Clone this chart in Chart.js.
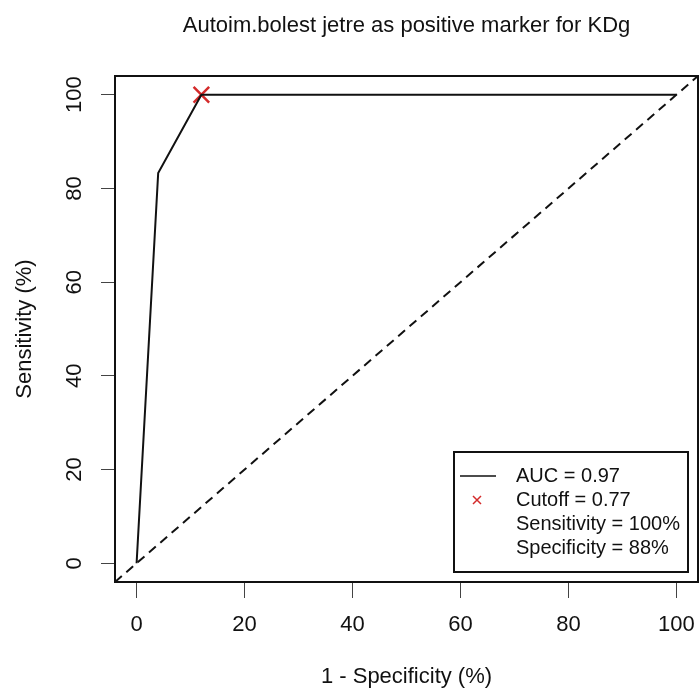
<!DOCTYPE html>
<html>
<head>
<meta charset="utf-8">
<script src="https://cdn.jsdelivr.net/npm/chart.js@4/dist/chart.umd.min.js"></script>
<style>
  html, body { margin: 0; padding: 0; background: #fff; overflow: hidden; }
  #wrap { width: 700px; height: 694px; }
</style>
</head>
<body>
<div id="wrap"><canvas id="chart" width="700" height="694"></canvas></div>
<script>
// data
const titleText = 'Autoim.bolest jetre as positive marker for KDg';
const xTitle = '1 - Specificity (%)';
const yTitle = 'Sensitivity (%)';
const axisLimits = [-4, 104];
const tickValues = [0, 20, 40, 60, 80, 100];
const fpr = [0, 4, 12, 100];          // 1 - specificity
const tpr = [0, 83.3, 100, 100];      // sensitivity
const cutoffFpr = [12];
const cutoffTpr = [100];
const legendLabels = ['AUC = 0.97', 'Cutoff = 0.77', 'Sensitivity = 100%', 'Specificity = 88%'];

const fontFamily = '"Liberation Sans", Arial, Helvetica, sans-serif';
const red = '#d42a2a';

const toPoints = (xs, ys) => xs.map((x, i) => ({x: x, y: ys[i]}));

// box round the plot, title, tick labels and legend
const extras = {
    id: 'extras',
    afterDatasetsDraw(chart) {
        const ctx = chart.ctx;
        const area = chart.chartArea;
        const xScale = chart.scales.x;
        const yScale = chart.scales.y;
        ctx.save();

        ctx.strokeStyle = '#111';
        ctx.lineWidth = 2;
        ctx.strokeRect(area.left, area.top, area.right - area.left, area.bottom - area.top);

        ctx.fillStyle = '#111';
        ctx.font = '22px ' + fontFamily;
        ctx.textAlign = 'center';
        ctx.textBaseline = 'middle';
        ctx.fillText(titleText, (area.left + area.right) / 2, 26);

        // y tick labels, vertical like R
        yScale.ticks.forEach(t => {
            const y = yScale.getPixelForValue(t.value);
            ctx.save();
            ctx.translate(75, y);
            ctx.rotate(-Math.PI / 2);
            ctx.fillText(String(t.value), 0, 0);
            ctx.restore();
        });

        // x tick labels
        ctx.textBaseline = 'alphabetic';
        xScale.ticks.forEach(t => {
            ctx.fillText(String(t.value), xScale.getPixelForValue(t.value), area.bottom + 49);
        });

        // legend
        ctx.textBaseline = 'middle';
        const w = 234, h = 120;
        const lx = area.right - 10 - w;
        const ly = area.bottom - 10 - h;
        ctx.fillStyle = '#fff';
        ctx.fillRect(lx, ly, w, h);
        ctx.strokeStyle = '#111';
        ctx.lineWidth = 2;
        ctx.strokeRect(lx, ly, w, h);

        ctx.font = '20px ' + fontFamily;
        ctx.textAlign = 'left';
        ctx.fillStyle = '#111';
        legendLabels.forEach((label, i) => {
            const ry = ly + 24 + i * 24;
            ctx.fillText(label, lx + 62, ry);
        });
        // line sample
        ctx.beginPath();
        ctx.moveTo(lx + 6, ly + 24);
        ctx.lineTo(lx + 42, ly + 24);
        ctx.lineWidth = 1.5;
        ctx.stroke();
        // red x sample
        const cx = lx + 23, cy = ly + 48;
        ctx.strokeStyle = red;
        ctx.lineWidth = 1.5;
        ctx.beginPath();
        ctx.moveTo(cx - 4, cy - 4); ctx.lineTo(cx + 4, cy + 4);
        ctx.moveTo(cx - 4, cy + 4); ctx.lineTo(cx + 4, cy - 4);
        ctx.stroke();

        ctx.restore();
    }
};

const config = {
    type: 'scatter',
    data: {
        datasets: [
            {
                label: 'ROC',
                data: toPoints(fpr, tpr),
                showLine: true,
                borderColor: '#111',
                borderWidth: 2,
                pointRadius: 0,
                tension: 0
            },
            {
                label: 'chance',
                data: toPoints(axisLimits, axisLimits),
                showLine: true,
                borderColor: '#111',
                borderWidth: 2,
                borderDash: [9, 6],
                pointRadius: 0
            },
            {
                label: 'cutoff',
                data: toPoints(cutoffFpr, cutoffTpr),
                pointStyle: 'crossRot',
                pointRadius: 11,
                borderColor: red,
                borderWidth: 2.5
            }
        ]
    },
    options: {
        responsive: false,
        animation: false,
        layout: { autoPadding: false, padding: { top: 76, right: 2, left: 0, bottom: 0 } },
        plugins: {
            legend: { display: false },
            tooltip: { enabled: false }
        },
        scales: {
            x: {
                type: 'linear',
                min: axisLimits[0],
                max: axisLimits[1],
                afterBuildTicks: s => { s.ticks = tickValues.map(v => ({value: v})); },
                afterFit: s => { s.height = 112; },
                border: { display: false },
                grid: { drawOnChartArea: false, drawTicks: true, tickLength: 16, color: '#444', lineWidth: 1 },
                ticks: { display: false },
                title: { display: true, text: xTitle, color: '#111', font: { size: 22, family: fontFamily }, padding: { top: 0, bottom: 4 } }
            },
            y: {
                type: 'linear',
                min: axisLimits[0],
                max: axisLimits[1],
                afterBuildTicks: s => { s.ticks = tickValues.map(v => ({value: v})); },
                afterFit: s => { s.width = 115; },
                border: { display: false },
                grid: { drawOnChartArea: false, drawTicks: true, tickLength: 14, color: '#444', lineWidth: 1 },
                ticks: { display: false },
                title: { display: true, text: yTitle, color: '#111', font: { size: 22, family: fontFamily }, padding: { top: 12, bottom: 0 } }
            }
        }
    },
    plugins: [extras]
};

const myChart = new Chart(document.getElementById('chart'), config);
</script>
</body>
</html>
